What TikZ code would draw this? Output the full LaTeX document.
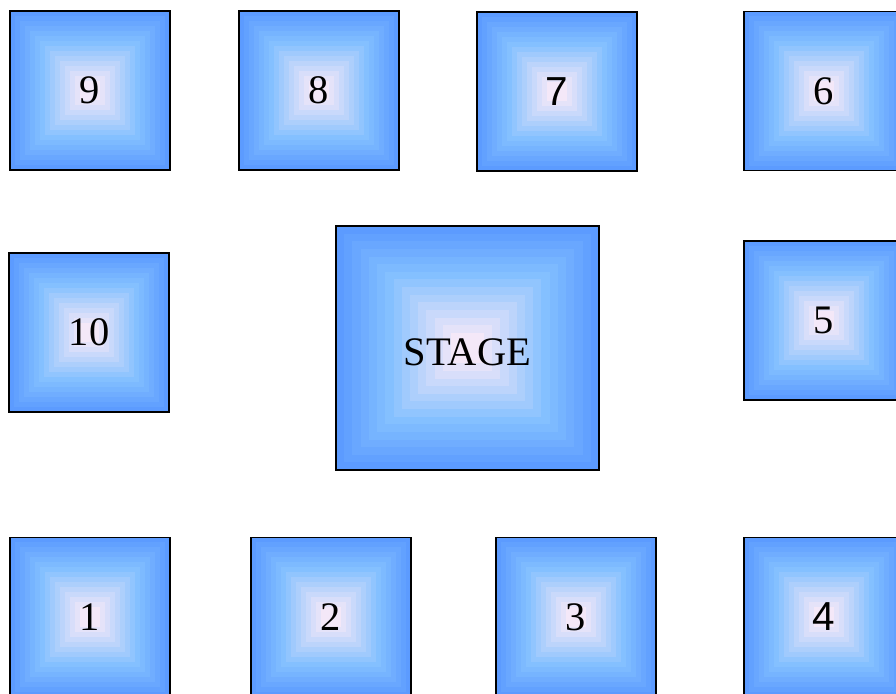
\documentclass[tikz,border=0pt]{standalone}
\usepackage{fontspec}
\setmainfont{Liberation Serif}
\newfontfamily\sansf{Liberation Sans}
\usetikzlibrary{calc}
\definecolor{outerblue}{RGB}{92,155,255}
\definecolor{midblue}{RGB}{132,192,255}
\definecolor{innerlav}{RGB}{244,232,248}
\tikzset{
  seatbox/.style={draw=black, line width=1.2pt, inner sep=0pt,
    minimum width=160pt, minimum height=159pt,
    font=\fontsize{40.5}{48}\selectfont,
    path picture={
      \foreach \i in {0,...,5}{
        \pgfmathsetmacro\myf{\i/32}
        \pgfmathtruncatemacro\mypc{100*\i/6}
        \fill[midblue!\mypc!outerblue]
          ($(path picture bounding box.south west)!\myf!(path picture bounding box.north east)$)
          rectangle
          ($(path picture bounding box.north east)!\myf!(path picture bounding box.south west)$);
      }
      \foreach \i in {6,...,15}{
        \pgfmathsetmacro\myf{\i/32}
        \pgfmathtruncatemacro\mypc{100*(\i-6)/8}
        \pgfmathtruncatemacro\mypc{min(\mypc,100)}
        \fill[innerlav!\mypc!midblue]
          ($(path picture bounding box.south west)!\myf!(path picture bounding box.north east)$)
          rectangle
          ($(path picture bounding box.north east)!\myf!(path picture bounding box.south west)$);
      }
    }},
  stagebox/.style={seatbox, minimum width=263pt, minimum height=244pt}
}
\begin{document}
\begin{tikzpicture}[x=1pt,y=-1pt]
\useasboundingbox (0,0) rectangle (896,693);
\clip (0,0) rectangle (896,693);
\node[seatbox] (s9) at (90,90.5) {9};
\node[seatbox] (s8) at (319,90.5) {8};
\node[seatbox] (s7) at (557,91.5) {\sansf 7};
\node[seatbox] (s6) at (824,91) {6};
\node[seatbox] (s10) at (89,332.5) {10};
\node[stagebox] (stage) at (467.5,348) {\raisebox{-17pt}[0pt][0pt]{STAGE}};
\node[seatbox] (s5) at (824,320.5) {5};
\node[seatbox] (s1) at (90,617) {1};
\node[seatbox] (s2) at (331,617) {2};
\node[seatbox] (s3) at (576,617) {3};
\node[seatbox] (s4) at (824,617) {\sansf 4};
\end{tikzpicture}
\end{document}
